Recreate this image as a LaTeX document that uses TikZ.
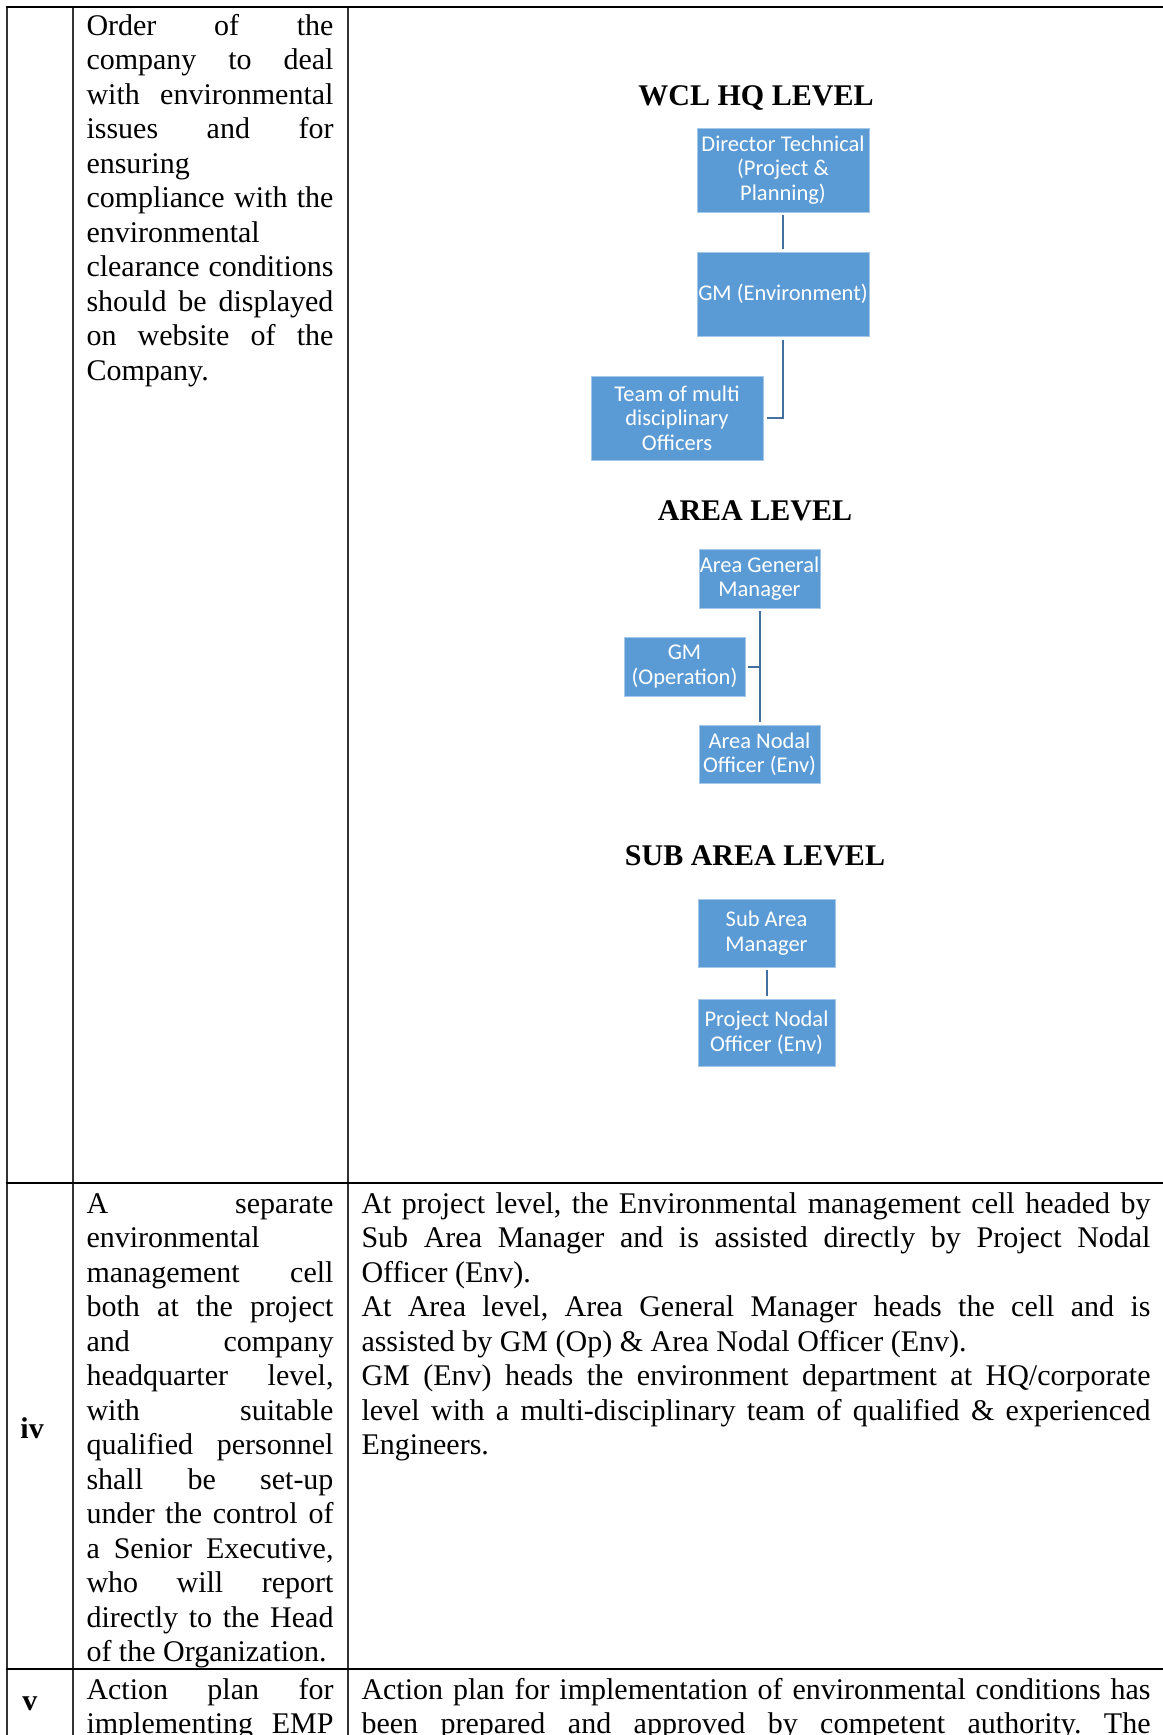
\documentclass[tikz,border=0pt]{standalone}
\usepackage{fontspec}
\setmainfont{Liberation Serif}
\newfontfamily\chartfont{Carlito}
\definecolor{boxblue}{HTML}{5B9BD5}
\definecolor{lineblue}{HTML}{41719C}
\newlength\cw
\newcommand\jl[1]{\hbox to \cw{\spaceskip=3pt plus 1fil minus 1.5pt\relax #1}}
\newcommand\lf[1]{\hbox to \cw{#1\hfil}}
\begin{document}
\begin{tikzpicture}[x=0.4pt,y=-0.4pt,
  box/.style={fill=boxblue, draw=boxblue!55!white, line width=0.3pt, text=white,
    font=\chartfont\fontsize{9pt}{9.8pt}\selectfont, align=center, inner sep=0pt},
  conn/.style={draw=lineblue, line width=0.8pt},
  head/.style={font=\bfseries\fontsize{12pt}{13.8pt}\selectfont, anchor=base, inner sep=0pt},
  body/.style={anchor=base west, inner sep=0pt, font=\fontsize{12pt}{13.8pt}\selectfont\frenchspacing},
  hline/.style={line width=0.8pt, black},
  vline/.style={line width=0.5pt, black!80}]
\useasboundingbox (0,0) rectangle (1163,1735);
\fill[white] (0,0) rectangle (1163,1735);
% table rules
\draw[vline] (7,7) -- (7,1735);
\draw[vline] (73,7) -- (73,1735);
\draw[vline] (348,7) -- (348,1735);
\draw[hline] (6,7) -- (1163,7);
\draw[hline] (6,1183) -- (1163,1183);
\draw[hline] (6,1669) -- (1163,1669);
% headings
\node[head] (h1) at (756,105) {WCL HQ LEVEL};
\node[head] (h2) at (755,520) {AREA LEVEL};
\node[head] (h3) at (755,865) {SUB AREA LEVEL};
% chart boxes
\node[box, minimum width=68.8pt, minimum height=33.6pt] (dt) at (783,170) {Director Technical\\(Project \&\\Planning)};
\node[box, minimum width=68.8pt, minimum height=33.6pt] (gme) at (783,294) {GM (Environment)};
\node[box, minimum width=68.8pt, minimum height=33.6pt] (team) at (677,418) {Team of multi\\disciplinary\\Officers};
\node[box, minimum width=48.4pt, minimum height=23.6pt] (agm) at (759.5,578.5) {Area General\\Manager};
\node[box, minimum width=48.4pt, minimum height=23.6pt] (gmo) at (684.5,666.5) {GM\\(Operation)};
\node[box, minimum width=48.4pt, minimum height=23.2pt] (ano) at (759.5,754) {Area Nodal\\Officer (Env)};
\node[box, minimum width=54.8pt, minimum height=27.2pt] (sam) at (766.5,933) {Sub Area\\Manager};
\node[box, minimum width=54.8pt, minimum height=26.8pt] (pno) at (766.5,1032.5) {Project Nodal\\Officer (Env)};
% connectors
\draw[conn, shorten <=1.2pt, shorten >=1.2pt] (dt) -- (gme);
\draw[conn, shorten <=1.6pt, shorten >=1.6pt] (gme.south) |- (team.east);
\draw[conn, shorten <=1.2pt, shorten >=1.2pt] (agm.south) -- (ano.north);
\coordinate (br) at (agm.south |- gmo.east);
\draw[conn, shorten <=1.2pt] (gmo.east) -- (br);
\draw[conn, shorten <=1.2pt, shorten >=1.2pt] (sam) -- (pno);
% row labels
\node[body, font=\bfseries\fontsize{12pt}{13.8pt}\selectfont] (liv) at (20,1438) {iv};
\node[body, font=\bfseries\fontsize{12pt}{13.8pt}\selectfont] (lv) at (22,1710) {v};
% column 2 texts
\node[body] (c2a) at (86,35) {\vtop{\cw=98.8pt \baselineskip=13.8pt \lineskiplimit=-100pt
\jl{Order of the}
\jl{company to deal}
\jl{with environmental}
\jl{issues and for}
\lf{ensuring}
\jl{compliance with the}
\lf{environmental}
\jl{clearance conditions}
\jl{should be displayed}
\jl{on website of the}
\lf{Company.}}};
\node[body] (c2b) at (86,1213) {\vtop{\cw=98.8pt \baselineskip=13.8pt \lineskiplimit=-100pt
\jl{A separate}
\lf{environmental}
\jl{management cell}
\jl{both at the project}
\jl{and company}
\jl{headquarter level,}
\jl{with suitable}
\jl{qualified personnel}
\jl{shall be set-up}
\jl{under the control of}
\jl{a Senior Executive,}
\jl{who will report}
\jl{directly to the Head}
\lf{of the Organization.}}};
\node[body] (c2c) at (86,1699) {\vtop{\cw=98.8pt \baselineskip=13.8pt \lineskiplimit=-100pt
\jl{Action plan for}
\jl{implementing EMP}}};
% column 3 texts
\node[body] (c3b) at (361,1213) {\vtop{\cw=315.6pt \baselineskip=13.8pt \lineskiplimit=-100pt
\jl{At project level, the Environmental management cell headed by}
\jl{Sub Area Manager and is assisted directly by Project Nodal}
\lf{Officer (Env).}
\jl{At Area level, Area General Manager heads the cell and is}
\lf{assisted by GM (Op) \& Area Nodal Officer (Env).}
\jl{GM (Env) heads the environment department at HQ/corporate}
\jl{level with a multi-disciplinary team of qualified \& experienced}
\lf{Engineers.}}};
\node[body] (c3c) at (361,1699) {\vtop{\cw=315.6pt \baselineskip=13.8pt \lineskiplimit=-100pt
\jl{Action plan for implementation of environmental conditions has}
\jl{been prepared and approved by competent authority. The}}};
\end{tikzpicture}
\end{document}
